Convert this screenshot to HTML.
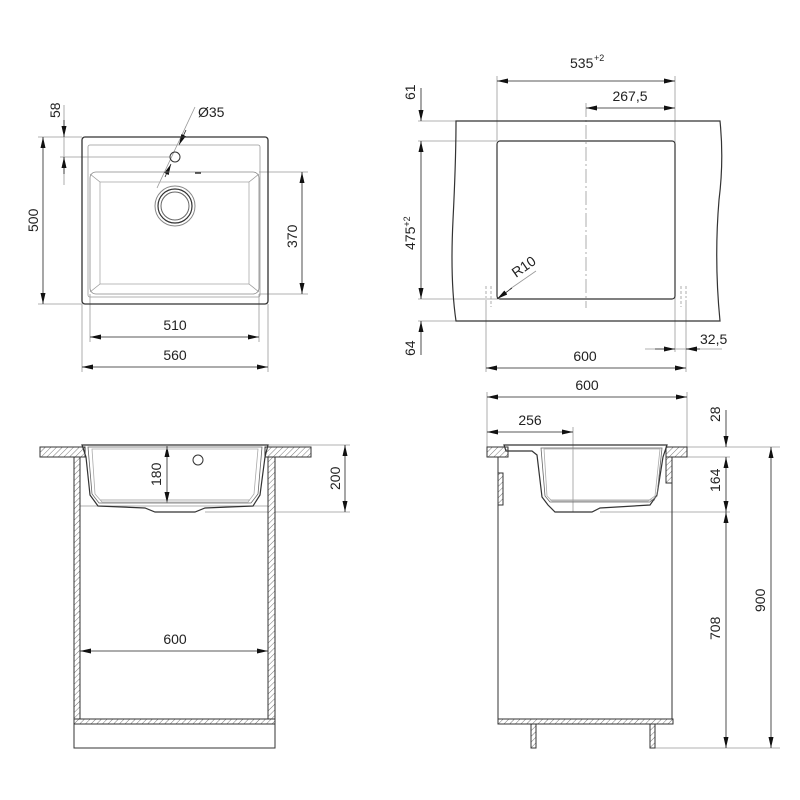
<!DOCTYPE html>
<html><head><meta charset="utf-8"><style>
html,body{margin:0;padding:0;background:#fff;}
svg{display:block}
text{font-family:"Liberation Sans",sans-serif;font-size:14px;fill:#222}
</style></head><body>
<svg width="800" height="800" viewBox="0 0 800 800" xmlns="http://www.w3.org/2000/svg">
<defs>
<marker id="a" viewBox="0 0 11 5" refX="11" refY="2.5" markerWidth="11" markerHeight="5" orient="auto-start-reverse" markerUnits="userSpaceOnUse"><path d="M0,0L11,2.5L0,5z" fill="#111"/></marker>
<pattern id="h" width="4" height="4" patternUnits="userSpaceOnUse" patternTransform="rotate(45)"><rect width="4" height="4" fill="#fff"/><line x1="0" y1="0" x2="0" y2="4" stroke="#777" stroke-width="1"/></pattern>
</defs>
<g stroke="#999" stroke-width="0.8" fill="none">
<line x1="38" y1="137" x2="82" y2="137"/><line x1="38" y1="304" x2="82" y2="304"/>
<line x1="60" y1="157" x2="170" y2="157"/>
<line x1="259" y1="172" x2="308" y2="172"/><line x1="259" y1="294" x2="308" y2="294"/>
<line x1="90" y1="294" x2="90" y2="342"/><line x1="259" y1="294" x2="259" y2="342"/>
<line x1="82" y1="304" x2="82" y2="372"/><line x1="268" y1="304" x2="268" y2="372"/>
<line x1="64" y1="105" x2="64" y2="185"/>
<line x1="195" y1="107" x2="157" y2="188"/>
</g>
<g stroke="#222" stroke-width="0.8" fill="none">
<line x1="43" y1="137" x2="43" y2="304" marker-start="url(#a)" marker-end="url(#a)"/>
<line x1="64" y1="120" x2="64" y2="137" marker-end="url(#a)"/>
<line x1="64" y1="174" x2="64" y2="157" marker-end="url(#a)"/>
<line x1="302" y1="172" x2="302" y2="294" marker-start="url(#a)" marker-end="url(#a)"/>
<line x1="90" y1="337" x2="259" y2="337" marker-start="url(#a)" marker-end="url(#a)"/>
<line x1="82" y1="367" x2="268" y2="367" marker-start="url(#a)" marker-end="url(#a)"/>
<line x1="186" y1="130" x2="179" y2="145" marker-end="url(#a)"/>
<line x1="165" y1="177" x2="171" y2="164" marker-end="url(#a)"/>
</g>
<rect x="82" y="137" width="186" height="167" rx="3" fill="none" stroke="#333" stroke-width="1.3"/>
<rect x="88" y="145" width="172" height="152" rx="2" fill="none" stroke="#999" stroke-width="0.8"/>
<rect x="90" y="172" width="169" height="122" rx="6" fill="none" stroke="#888" stroke-width="0.8"/>
<rect x="100" y="182" width="149" height="102" fill="none" stroke="#aaa" stroke-width="0.8"/>
<g stroke="#999" stroke-width="0.8"><line x1="90" y1="174" x2="100" y2="182"/><line x1="259" y1="174" x2="249" y2="182"/><line x1="90" y1="292" x2="100" y2="284"/><line x1="259" y1="292" x2="249" y2="284"/></g>
<circle cx="175" cy="157" r="5" fill="none" stroke="#333"/>
<circle cx="175" cy="206" r="20" fill="none" stroke="#888"/>
<circle cx="175" cy="206" r="17" fill="none" stroke="#333" stroke-width="1.2"/>
<circle cx="175" cy="206" r="14" fill="none" stroke="#666"/>
<line x1="195" y1="173" x2="201" y2="173" stroke="#333" stroke-width="1.5"/>
<text x="198" y="117">Ø35</text>
<text transform="translate(60,118) rotate(-90)">58</text>
<text transform="translate(38,232) rotate(-90)">500</text>
<text transform="translate(297,248) rotate(-90)">370</text>
<text x="175" y="330" text-anchor="middle">510</text>
<text x="175" y="360" text-anchor="middle">560</text>

<g stroke="#999" stroke-width="0.8" fill="none">
<line x1="497" y1="76" x2="497" y2="141"/><line x1="675" y1="76" x2="675" y2="352"/>
<line x1="586" y1="103" x2="586" y2="308" stroke-dasharray="14,3,2,3"/>
<line x1="418" y1="121" x2="456" y2="121"/><line x1="418" y1="141" x2="497" y2="141"/>
<line x1="418" y1="299" x2="497" y2="299"/><line x1="418" y1="321" x2="456" y2="321"/>
<line x1="486" y1="300" x2="486" y2="372"/><line x1="686" y1="300" x2="686" y2="372"/>
<line x1="486" y1="286" x2="486" y2="298" stroke-dasharray="3,2"/><line x1="491" y1="286" x2="491" y2="307" stroke-dasharray="3,2"/>
<line x1="681" y1="286" x2="681" y2="307" stroke-dasharray="3,2"/><line x1="686" y1="286" x2="686" y2="298" stroke-dasharray="3,2"/>
<line x1="536" y1="271" x2="510" y2="289"/>
<line x1="645" y1="349" x2="722" y2="349"/>
</g>
<g stroke="#222" stroke-width="0.8" fill="none">
<line x1="497" y1="81" x2="675" y2="81" marker-start="url(#a)" marker-end="url(#a)"/>
<line x1="586" y1="108" x2="675" y2="108" marker-start="url(#a)" marker-end="url(#a)"/>
<line x1="421" y1="88" x2="421" y2="121" marker-end="url(#a)"/>
<line x1="421" y1="141" x2="421" y2="299" marker-start="url(#a)" marker-end="url(#a)"/>
<line x1="421" y1="355" x2="421" y2="321" marker-end="url(#a)"/>
<line x1="486" y1="368" x2="686" y2="368" marker-start="url(#a)" marker-end="url(#a)"/>
<line x1="655" y1="349" x2="675" y2="349" marker-end="url(#a)"/>
<line x1="700" y1="349" x2="686" y2="349" marker-end="url(#a)"/>
<line x1="512" y1="288" x2="497" y2="299" marker-end="url(#a)"/>
</g>
<path d="M456,121 L720,121 Q724,160 719,200 Q714,260 720,321 L456,321 Q450,280 453,220 Q456,160 456,121 Z" fill="none" stroke="#333" stroke-width="1.2"/>
<rect x="497" y="141" width="178" height="158" rx="3" fill="none" stroke="#333" stroke-width="1.2"/>
<text x="570" y="68">535</text><text x="594" y="61" style="font-size:9px">+2</text>
<text x="630" y="101" text-anchor="middle">267,5</text>
<text transform="translate(415,100) rotate(-90)">61</text>
<text transform="translate(415,250) rotate(-90)">475<tspan dy="-5" style="font-size:9px">+2</tspan></text>
<text transform="translate(415,356) rotate(-90)">64</text>
<text transform="translate(516,278) rotate(-35)">R10</text>
<text x="585" y="361" text-anchor="middle">600</text>
<text x="700" y="344">32,5</text>

<g stroke="#999" stroke-width="0.8" fill="none">
<line x1="268" y1="445" x2="350" y2="445"/><line x1="205" y1="512" x2="350" y2="512"/>
<line x1="80" y1="506" x2="268" y2="506"/>
<line x1="100" y1="500" x2="250" y2="500"/>
</g>
<g stroke="#222" stroke-width="0.8" fill="none">
<line x1="345" y1="445" x2="345" y2="512" marker-start="url(#a)" marker-end="url(#a)"/>
<line x1="167" y1="446" x2="167" y2="503" marker-start="url(#a)" marker-end="url(#a)"/>
<line x1="80" y1="651" x2="268" y2="651" marker-start="url(#a)" marker-end="url(#a)"/>
</g>
<g stroke="#333" stroke-width="1" fill="url(#h)">
<rect x="40" y="447" width="45" height="10"/><rect x="265" y="447" width="46" height="10"/>
<rect x="74" y="457" width="6" height="262"/><rect x="268" y="457" width="7" height="262"/>
<rect x="74" y="719" width="201" height="5"/>
</g>
<rect x="74" y="724" width="201" height="24" fill="none" stroke="#333"/>
<path d="M82,445 L268,445 L265,457 L260,495 L253,506 L205,508 L195,512 L155,512 L145,508 L98,506 L90,495 L86,457 Z" fill="none" stroke="#333" stroke-width="1.2"/>
<path d="M88,447 L262,447 L258,494 L251,503 L99,503 L92,494 Z" fill="none" stroke="#666" stroke-width="0.8"/>
<path d="M92,449 L258,449 L254,494 L248,502 L102,502 L95,494 Z" fill="none" stroke="#aaa" stroke-width="0.8"/>
<circle cx="198" cy="460" r="5" fill="none" stroke="#333"/>
<text transform="translate(161,486) rotate(-90)">180</text>
<text transform="translate(340,490) rotate(-90)">200</text>
<text x="175" y="644" text-anchor="middle">600</text>

<g stroke="#999" stroke-width="0.8" fill="none">
<line x1="487" y1="392" x2="487" y2="447"/><line x1="687" y1="392" x2="687" y2="447"/>
<line x1="573" y1="427" x2="573" y2="512"/>
<line x1="687" y1="447" x2="780" y2="447"/><line x1="672" y1="457" x2="730" y2="457"/>
<line x1="600" y1="512" x2="730" y2="512"/><line x1="655" y1="748" x2="780" y2="748"/>
<line x1="550" y1="500" x2="655" y2="500"/>
</g>
<g stroke="#222" stroke-width="0.8" fill="none">
<line x1="487" y1="397" x2="687" y2="397" marker-start="url(#a)" marker-end="url(#a)"/>
<line x1="487" y1="432" x2="573" y2="432" marker-start="url(#a)" marker-end="url(#a)"/>
<line x1="726" y1="410" x2="726" y2="447" marker-end="url(#a)"/>
<line x1="726" y1="457" x2="726" y2="512" marker-start="url(#a)" marker-end="url(#a)"/>
<line x1="726" y1="512" x2="726" y2="748" marker-start="url(#a)" marker-end="url(#a)"/>
<line x1="771" y1="447" x2="771" y2="748" marker-start="url(#a)" marker-end="url(#a)"/>
</g>
<g stroke="#333" stroke-width="1" fill="url(#h)">
<rect x="487" y="447" width="21" height="10"/><rect x="666" y="447" width="21" height="10"/>
<rect x="498" y="473" width="5" height="32"/><rect x="666" y="457" width="6" height="26"/>
<rect x="498" y="719" width="175" height="5"/>
<rect x="531" y="724" width="5" height="24"/><rect x="650" y="724" width="5" height="24"/>
</g>
<line x1="498" y1="457" x2="498" y2="719" stroke="#333"/><line x1="672" y1="483" x2="672" y2="719" stroke="#333"/>
<path d="M504,445 L667,445 L663,457 L657,495 L650,505 L600,508 L592,512 L555,512 L548,505 L542,497 L537,455 L532,451 L506,451 Z" fill="none" stroke="#333" stroke-width="1.2"/>
<path d="M541,448 L662,448 L657,496 L650,502 L550,502 L545,496 Z" fill="none" stroke="#666" stroke-width="0.8"/>
<path d="M544,449 L660,449 L655,496 L648,501 L552,501 L547,496 Z" fill="none" stroke="#aaa" stroke-width="0.8"/>
<text x="587" y="390" text-anchor="middle">600</text>
<text x="530" y="425" text-anchor="middle">256</text>
<text transform="translate(720,422) rotate(-90)">28</text>
<text transform="translate(720,492) rotate(-90)">164</text>
<text transform="translate(720,640) rotate(-90)">708</text>
<text transform="translate(765,612) rotate(-90)">900</text>
</svg>
</body></html>
